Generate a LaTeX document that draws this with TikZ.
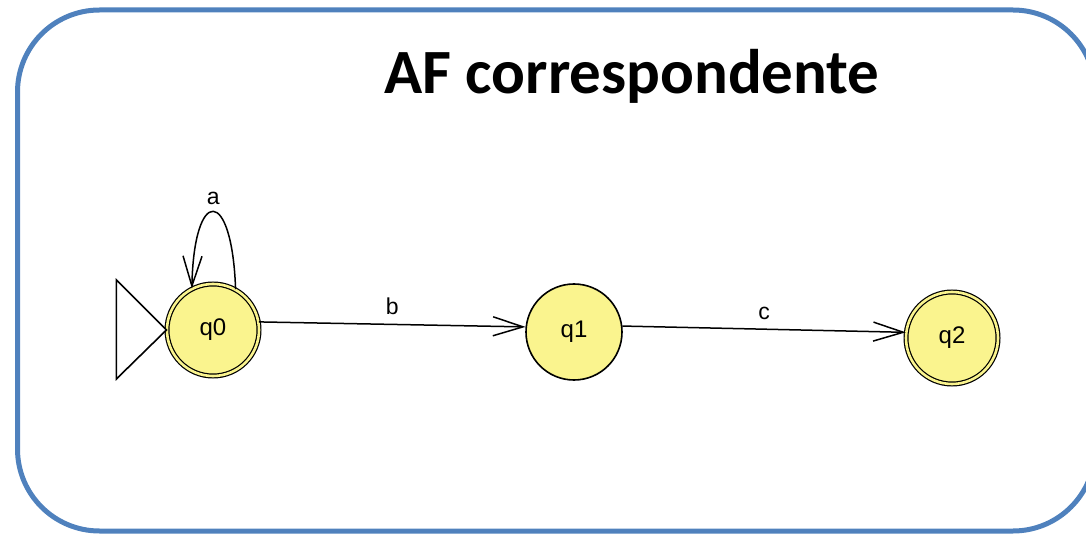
\documentclass[tikz,border=0pt]{standalone}
\usepackage{fontspec}
\setmainfont{Liberation Sans}
\newfontfamily\titlefont{Carlito}
\usetikzlibrary{arrows.meta}
\definecolor{frameblue}{HTML}{4F81BD}
\definecolor{stateyellow}{HTML}{FAF48E}
\begin{document}
\begin{tikzpicture}[x=1pt,y=-1pt,
  state/.style={circle,draw=black,line width=1.6pt,fill=stateyellow,minimum size=96pt,inner sep=0pt,font=\fontsize{24}{24}\selectfont},
  accept/.style={state,double=stateyellow,double distance=2.6pt,line width=1.2pt,minimum size=92pt},
  trans/.style={line width=1.5pt,-{Straight Barb[length=30pt,width=19pt,line width=1.5pt]}},
  elabel/.style={font=\fontsize{23}{23}\selectfont,inner sep=0pt}]
\path[use as bounding box] (0,0) rectangle (1086,534);
\draw[frameblue,line width=5pt,rounded corners=82pt] (17.5,10) rectangle (1095,531);
\node[anchor=base,font=\titlefont\bfseries\fontsize{63}{63}\selectfont] (title) at (632,94) {AF correspondente};
\node[accept] (q0) at (213,330) {q0};
\node[state] (q1) at (574,332) {q1};
\node[accept] (q2) at (952,338) {q2};
\draw[line width=1.6pt,fill=white] (q0.west) -- ++(-50,-50) -- ++(0,99) -- cycle;
\draw[trans] (q0.10) -- node[elabel,pos=0.5,above=9pt] (lb) {b} (q1.174);
\draw[trans] (q1.7) -- node[elabel,pos=0.5,above=9pt] (lc) {c} (q2.173);
\draw[trans] (q0.61) .. controls (232,186) and (194,186) .. node[elabel,pos=0.5,above=6pt] (la) {a} (q0.117);
\end{tikzpicture}
\end{document}
